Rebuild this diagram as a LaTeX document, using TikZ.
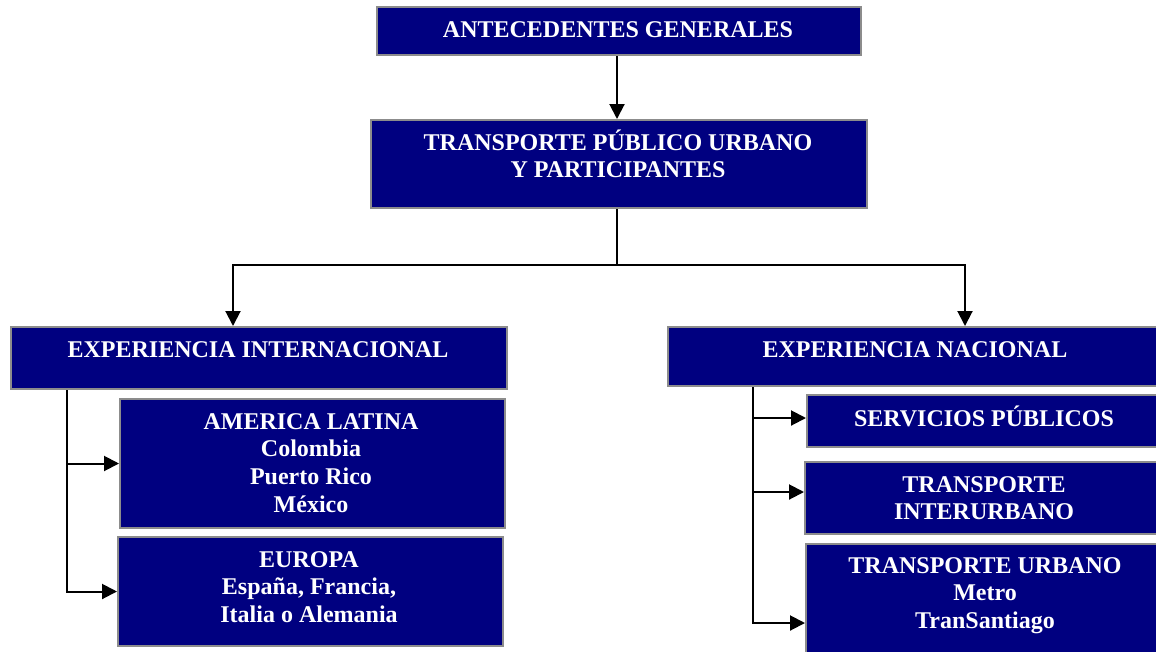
\documentclass[tikz,border=0pt]{standalone}
\usepackage{fontspec}
\setmainfont{Liberation Serif}
\usetikzlibrary{arrows.meta}
\definecolor{navybox}{RGB}{0,0,128}
\definecolor{boxedge}{RGB}{140,140,140}
\begin{document}
\begin{tikzpicture}[x=1pt,y=-1pt,
  box/.style={draw=boxedge, fill=navybox, line width=2pt, rectangle, anchor=north west, inner sep=0},
  txt/.style={text=white, font=\bfseries\fontsize{24}{27.6}\selectfont, align=center, inner sep=0, anchor=north},
  arr/.style={line width=2pt, -{Triangle[length=15pt,width=15pt]}},
  ln/.style={line width=2pt}]
\useasboundingbox (0,0) rectangle (1156,651);
\clip (0,0) rectangle (1156,651);
% boxes
\node[box, minimum width=484pt, minimum height=48pt] (ag) at (376,6) {};
\node[box, minimum width=496pt, minimum height=88pt] (tp) at (370,119) {};
\node[box, minimum width=496pt, minimum height=62pt] (ei) at (10,326) {};
\node[box, minimum width=385pt, minimum height=129pt] (al) at (119,398) {};
\node[box, minimum width=385pt, minimum height=109pt] (eu) at (117,536) {};
\node[box, minimum width=496pt, minimum height=59pt] (en) at (667,326) {};
\node[box, minimum width=356pt, minimum height=52pt] (sp) at (806,394) {};
\node[box, minimum width=358pt, minimum height=72pt] (ti) at (804,461) {};
\node[box, minimum width=358pt, minimum height=120pt] (tu) at (805,543) {};
% texts
\node[txt] (tag) at (618,15) {\rule{0pt}{22pt}ANTECEDENTES GENERALES};
\node[txt] (ttp) at (618,128) {\rule{0pt}{22pt}TRANSPORTE PÚBLICO URBANO\\Y PARTICIPANTES};
\node[txt] (tei) at (258,335) {\rule{0pt}{22pt}EXPERIENCIA INTERNACIONAL};
\node[txt] (tal) at (311,407) {\rule{0pt}{22pt}AMERICA LATINA\\Colombia\\Puerto Rico\\México};
\node[txt] (teu) at (309,545) {\rule{0pt}{22pt}EUROPA\\España, Francia,\\Italia o Alemania};
\node[txt] (ten) at (915,335) {\rule{0pt}{22pt}EXPERIENCIA NACIONAL};
\node[txt] (tsp) at (984,404) {\rule{0pt}{22pt}SERVICIOS PÚBLICOS};
\node[txt] (tti) at (984,470) {\rule{0pt}{22pt}TRANSPORTE\\INTERURBANO};
\node[txt] (ttu) at (985,551) {\rule{0pt}{22pt}TRANSPORTE URBANO\\Metro\\TranSantiago};
% helper coordinates
\coordinate (main) at (617,265);
\coordinate (lx) at (67,0);
\coordinate (rx) at (753,0);
\coordinate (lxa) at (233,0);
\coordinate (rxa) at (965,0);
\coordinate (b1) at (0,418);
\coordinate (b2) at (0,492);
\coordinate (b3) at (0,623);
% connectors
\draw[arr] (ag.south -| main) -- (tp.north -| main);
\draw[ln] (tp.south -| main) -- (main);
\draw[arr] (main) -| (ei.north -| lxa);
\draw[arr] (main) -| (en.north -| rxa);
\draw[arr] (ei.south -| lx) |- (al.west);
\draw[arr] (ei.south -| lx) |- (eu.west);
\draw[arr] (en.south -| rx) |- (sp.west |- b1);
\draw[arr] (en.south -| rx) |- (ti.west |- b2);
\draw[arr] (en.south -| rx) |- (tu.west |- b3);
\end{tikzpicture}
\end{document}
